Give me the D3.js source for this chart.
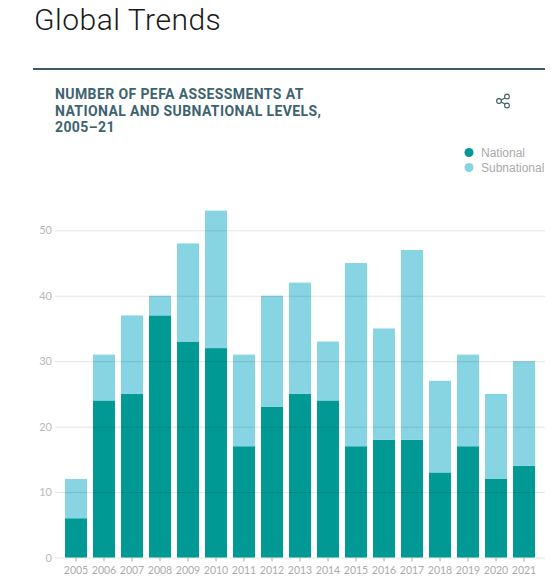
<!DOCTYPE html>
<html>
<head>
<meta charset="utf-8">
<script src="https://cdn.jsdelivr.net/npm/d3@7"></script>
<style>
  body { margin: 0; background: #fff; }
  svg { display: block; }
</style>
</head>
<body>
<svg id="chart" width="559" height="584"></svg>
<script>
// data
const years = ['2005', '2006', '2007', '2008', '2009', '2010', '2011', '2012', '2013',
  '2014', '2015', '2016', '2017', '2018', '2019', '2020', '2021'];
const national = [6, 24, 25, 37, 33, 32, 17, 23, 25, 24, 17, 18, 18, 13, 17, 12, 14];
const subnational = [6, 7, 12, 3, 15, 21, 14, 17, 17, 9, 28, 17, 29, 14, 14, 13, 16];
const yTicks = [0, 10, 20, 30, 40, 50];
const seriesNames = ['National', 'Subnational'];
const seriesColors = ['#009994', '#87d4e2'];

const svg = d3.select('#chart');

// page header
svg.append('text')
  .attr('x', 34).attr('y', 29.5)
  .style('font-family', 'Roboto, sans-serif')
  .style('font-weight', 300)
  .style('font-size', '30px')
  .style('letter-spacing', '0.5px')
  .style('fill', '#1a1a1a')
  .text('Global Trends');

svg.append('rect')
  .attr('x', 33).attr('y', 68).attr('width', 512).attr('height', 2)
  .attr('fill', '#3d5c66');

const subtitle = ['NUMBER OF PEFA ASSESSMENTS AT', 'NATIONAL AND SUBNATIONAL LEVELS,', '2005\u201321'];
svg.append('g').selectAll('text')
  .data(subtitle)
  .join('text')
  .attr('x', 55)
  .attr('y', (d, i) => 99 + i * 16.7)
  .style('font-family', 'Roboto, sans-serif')
  .style('font-weight', 700)
  .style('font-size', '14px')
  .style('letter-spacing', '0.4px')
  .style('fill', '#3e6370')
  .text(d => d);

// share icon
const share = svg.append('g').attr('transform', 'translate(503,101)')
  .attr('fill', 'none').attr('stroke', '#3e5c66').attr('stroke-width', 1.1);
share.append('path').attr('d', 'M-3.5,0 L3.5,-4 M-3.5,0 L3.5,4');
[[-4, 0], [4, -4.5], [4, 4.5]].forEach(p => {
  share.append('circle').attr('cx', p[0]).attr('cy', p[1]).attr('r', 2.4).attr('fill', '#fff');
});

// legend
const legend = svg.append('g');
seriesNames.forEach((name, i) => {
  const g = legend.append('g').attr('transform', `translate(469,${152.5 + i * 15})`);
  g.append('circle').attr('r', 4.5).attr('fill', seriesColors[i]);
  g.append('text')
    .attr('x', 12).attr('y', 4)
    .style('font-family', 'Liberation Sans, Arial, sans-serif')
    .style('font-size', '12px')
    .style('fill', '#aaaaaa')
    .text(name);
});

// scales
const x = d3.scaleBand()
  .domain(years)
  .range([62, 538])
  .paddingInner(0.2143)
  .paddingOuter(0.1071);

const y = d3.scaleLinear()
  .domain([0, 50])
  .range([557.5, 230.3]);

const stackData = years.map((yr, i) => ({ year: yr, National: national[i], Subnational: subnational[i] }));
const stacked = d3.stack().keys(seriesNames)(stackData);

// bars
svg.append('g').selectAll('g')
  .data(stacked)
  .join('g')
  .attr('fill', (d, i) => seriesColors[i])
  .selectAll('rect')
  .data(d => d)
  .join('rect')
  .attr('x', d => x(d.data.year))
  .attr('width', x.bandwidth())
  .attr('y', d => y(d[1]))
  .attr('height', d => y(d[0]) - y(d[1]));

// gridlines drawn over the bars
const yAxis = d3.axisLeft(y)
  .tickValues(yTicks)
  .tickSize(-490)
  .tickPadding(4);

const yg = svg.append('g')
  .attr('transform', 'translate(55,0)')
  .call(yAxis);
yg.select('.domain').remove();
yg.selectAll('.tick line')
  .attr('stroke', 'rgba(0,0,0,0.11)');
yg.selectAll('.tick text')
  .attr('x', -3)
  .style('font-family', 'Lato, sans-serif')
  .style('font-size', '11px')
  .style('fill', '#b8b8b8');

const xAxis = d3.axisBottom(x).tickSize(4).tickPadding(5);
const xg = svg.append('g')
  .attr('transform', `translate(0,${y(0)})`)
  .call(xAxis);
xg.select('.domain').remove();
xg.selectAll('.tick line').attr('stroke', '#aaaaaa');
xg.selectAll('.tick text')
  .style('font-family', 'Lato, sans-serif')
  .style('font-size', '10.5px')
  .style('fill', '#aaaaaa');
</script>
</body>
</html>
